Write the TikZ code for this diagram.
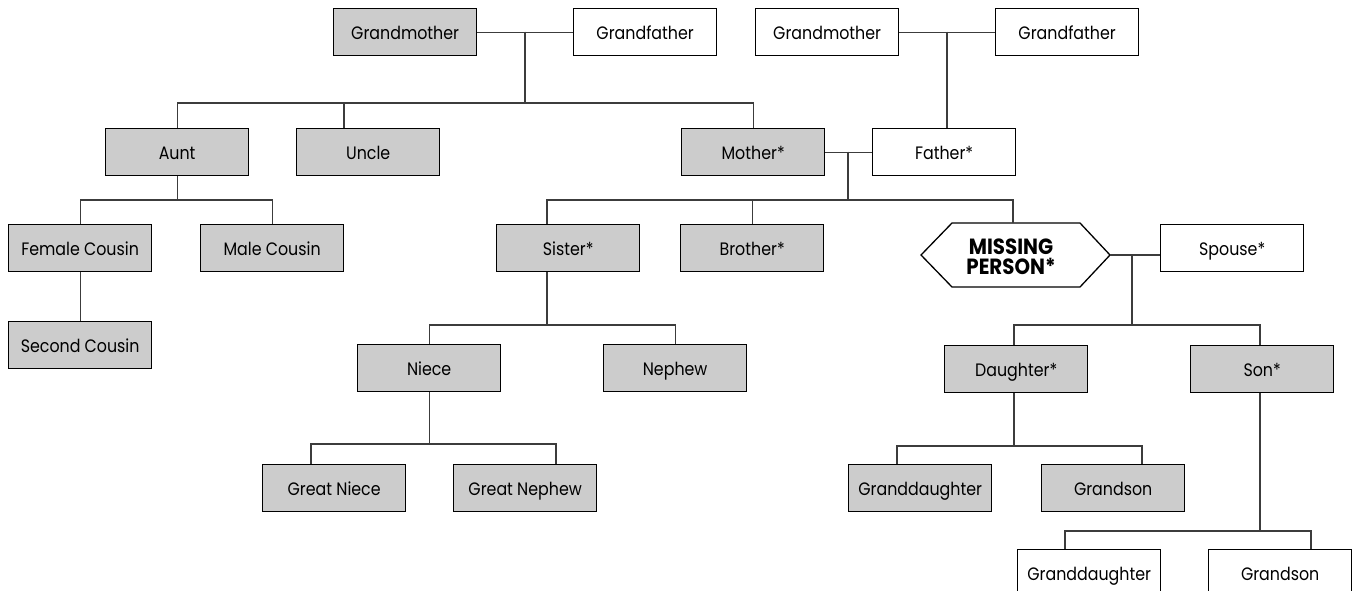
\documentclass[tikz,border=0pt]{standalone}
\usepackage{fontspec}
\setmainfont{Poppins}[FakeStretch=0.88]
\newfontfamily\mpfont{Poppins}[FakeStretch=0.9]
\definecolor{boxgray}{HTML}{CCCCCC}
\definecolor{linegray}{HTML}{3C3C3C}
\tikzset{
  person/.style={draw=black, line width=1.3pt, minimum width=143pt, minimum height=47pt,
    inner sep=0pt, anchor=north west, text height=14pt, text depth=0pt,
    font=\fontsize{18}{21}\selectfont},
  gbox/.style={person, fill=boxgray},
  wbox/.style={person, fill=white},
  conn/.style={draw=linegray, line width=1.3pt},
}
\begin{document}
\begin{tikzpicture}[x=1pt,y=-1pt]
\useasboundingbox (0,0) rectangle (1354,590);
\clip (0,0) rectangle (1354,590);
\fill[white] (0,0) rectangle (1354,590);
% row 1
\node[gbox] (gm1) at (333,8) {Grandmother};
\node[wbox] (gf1) at (573,8) {Grandfather};
\node[wbox] (gm2) at (755,8) {Grandmother};
\node[wbox] (gf2) at (995,8) {Grandfather};
% row 2
\node[gbox] (aunt) at (105,128) {Aunt};
\node[gbox] (uncle) at (296,128) {Uncle};
\node[gbox] (mother) at (681,128) {Mother*};
\node[wbox] (father) at (872,128) {Father*};
% row 3
\node[gbox] (fcous) at (8,224) {Female Cousin};
\node[gbox] (mcous) at (200,224) {Male Cousin};
\node[gbox] (sister) at (496,224) {Sister*};
\node[gbox] (brother) at (680,224) {Brother*};
\node[wbox] (spouse) at (1160,224) {Spouse*};
% missing person hexagon
\coordinate (mpleft) at (921,255);
\coordinate (mpright) at (1110,255);
\coordinate (mptop) at (1013,223);
\draw[line width=1.3pt, fill=white] (mpleft) -- (952,223) -- (1080,223) -- (mpright) -- (1080,287) -- (952,287) -- cycle;
\node[align=center, inner sep=0pt, font=\mpfont\bfseries\fontsize{22}{20}\selectfont] (mp) at (1011,257) {MISSING\\PERSON*};
% row 3b
\node[gbox] (scous) at (8,321) {Second Cousin};
% row 4
\node[gbox] (niece) at (357,344) {Niece};
\node[gbox] (nephew) at (603,344) {Nephew};
\node[gbox] (daughter) at (944,345) {Daughter*};
\node[gbox] (son) at (1190,345) {Son*};
% row 5
\node[gbox] (gniece) at (262,464) {Great Niece};
\node[gbox] (gnephew) at (453,464) {Great Nephew};
\node[gbox] (gd1) at (848,464) {Granddaughter};
\node[gbox] (gs1) at (1041,464) {Grandson};
% row 6
\node[wbox] (gd2) at (1017,549) {Granddaughter};
\node[wbox] (gs2) at (1208,549) {Grandson};
% junctions
\coordinate (j1) at (525,31.5);
\coordinate (j2) at (947,31.5);
\coordinate (j3) at (848,151.5);
\coordinate (j4) at (1132,255);
% connectors
\draw[conn] (gm1.east) -- (gf1.west);
\draw[conn] (j1) -- ++(0,71.5);
\draw[conn] (aunt.north) -- ++(0,-25) -| (mother.north);
\draw[conn] ([xshift=48pt]uncle.north west) -- ++(0,-25);
\draw[conn] (gm2.east) -- (gf2.west);
\draw[conn] (j2) -- (j2 |- father.north);
\draw[conn] (mother.east) -- (father.west);
\draw[conn] (j3) -- ++(0,48.5);
\draw[conn] ([xshift=51pt]sister.north west) -- ++(0,-24) -| (mptop);
\draw[conn] (brother.north) -- ++(0,-24);
\draw[conn] (aunt.south) -- ++(0,25);
\draw[conn] (fcous.north) -- ++(0,-24) -| (mcous.north);
\draw[conn] (fcous.south) -- (scous.north);
\draw[conn] (mpright) -- (mpright -| spouse.west);
\draw[conn] (j4) -- ++(0,70);
\draw[conn] ([xshift=70pt]daughter.north west) -- ++(0,-20) -| ([xshift=70pt]son.north west);
\draw[conn] ([xshift=51pt]sister.south west) -- ++(0,54);
\draw[conn] (niece.north) -- ++(0,-19) -| (nephew.north);
\draw[conn] (niece.south) -- ++(0,53);
\draw[conn] ([xshift=49pt]gniece.north west) -- ++(0,-20) -| ([xshift=103pt]gnephew.north west);
\draw[conn] ([xshift=70pt]daughter.south west) -- ++(0,54);
\draw[conn] ([xshift=49pt]gd1.north west) -- ++(0,-18) -| ([xshift=101pt]gs1.north west);
\draw[conn] ([xshift=70pt]son.south west) -- ++(0,139);
\draw[conn] ([xshift=48pt]gd2.north west) -- ++(0,-18) -| ([xshift=103pt]gs2.north west);
\end{tikzpicture}
\end{document}
